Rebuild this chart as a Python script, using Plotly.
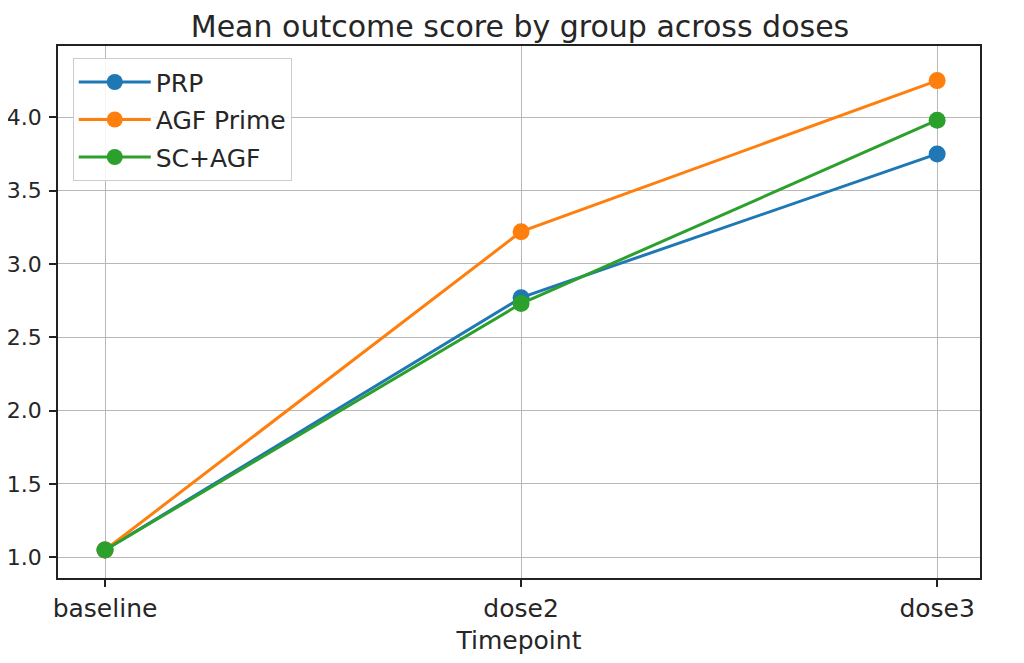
import plotly.graph_objects as go

timepoints = ["baseline", "dose2", "dose3"]
prp = [1.05, 2.77, 3.75]
agf_prime = [1.05, 3.22, 4.25]
sc_agf = [1.05, 2.73, 3.98]
y_ticks = [1.0, 1.5, 2.0, 2.5, 3.0, 3.5, 4.0]

series = [
    ("PRP", prp, "#1f77b4"),
    ("AGF Prime", agf_prime, "#ff7f0e"),
    ("SC+AGF", sc_agf, "#2ca02c"),
]

font_family = "DejaVu Sans"
fig = go.Figure()
for name, vals, color in series:
    fig.add_trace(go.Scatter(
        x=timepoints, y=vals, name=name, mode="lines+markers",
        legendgroup=name,
        line=dict(color=color, width=3),
        marker=dict(color=color, size=17),
    ))

axis_common = dict(
    showline=True, linecolor="#222222", linewidth=1.5, mirror=True,
    showgrid=True, gridcolor="#b8b8b8", gridwidth=1.3,
    ticks="outside", ticklen=7, tickwidth=1.5, tickcolor="#222222",
    zeroline=False, automargin=False,
)

fig.update_layout(
    width=1024, height=663,
    paper_bgcolor="white", plot_bgcolor="white",
    margin=dict(l=50, r=52, t=38, b=93),
    title=dict(text="Mean outcome score by group across doses",
               x=0.5, xanchor="center", y=0.988, yanchor="top",
               pad=dict(t=0, b=0),
               font=dict(family=font_family, size=30, color="#262626")),
    xaxis=dict(type="category", range=[-0.113, 2.103],
               tickfont=dict(family=font_family, size=25, color="#262626"),
               title=dict(text="Timepoint", standoff=10,
                          font=dict(family=font_family, size=25, color="#262626")),
               **axis_common),
    yaxis=dict(range=[0.859, 4.486], tickvals=y_ticks, ticklabelstandoff=3,
               tickfont=dict(family=font_family, size=22, color="#262626"),
               ticktext=[f"{v:.1f}" for v in y_ticks], **axis_common),
    legend=dict(x=0.016, y=0.977, xanchor="left", yanchor="top",
                bgcolor="rgba(255,255,255,0.85)", bordercolor="#cccccc", borderwidth=1,
                font=dict(family=font_family, size=25, color="#262626"),
                itemwidth=72, tracegroupgap=2),
    showlegend=True,
)

fig.write_html("out.html")
